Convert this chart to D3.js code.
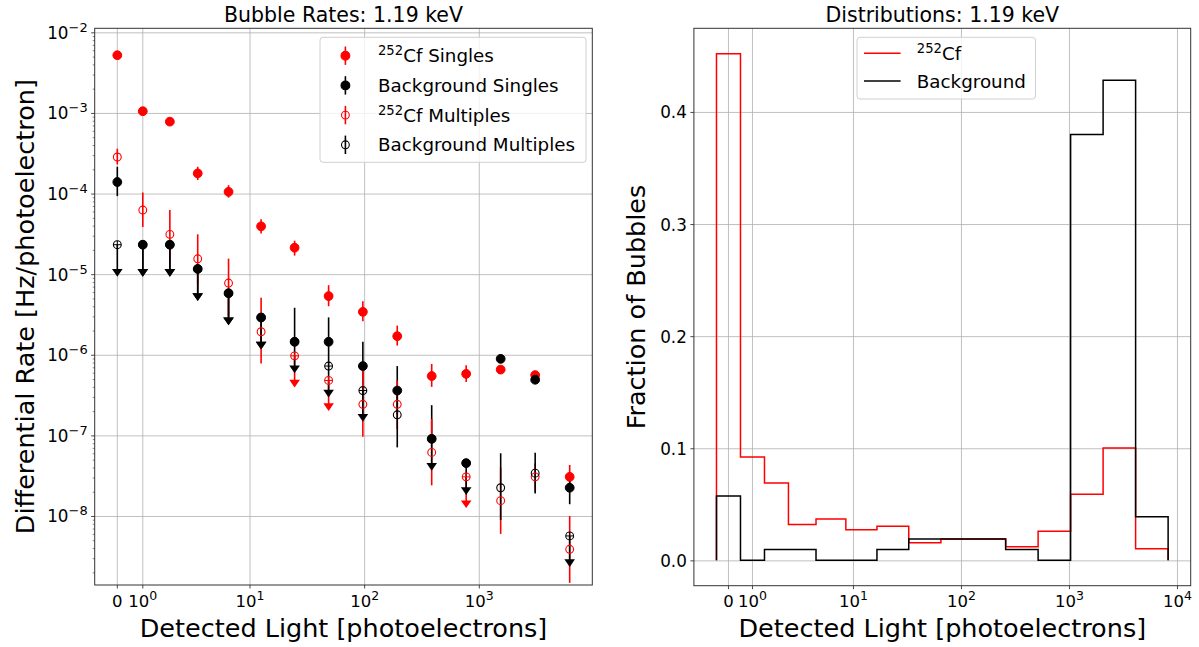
<!DOCTYPE html>
<html>
<head>
<meta charset="utf-8">
<script src="https://cdn.jsdelivr.net/npm/d3@7"></script>
<style>
  body { margin: 0; background: #fff; }
  text { font-family: "DejaVu Sans", sans-serif; fill: #000; }
</style>
</head>
<body>
<script>
// bin centres (photoelectrons) for the rate panel
var lightCenters = [0, 1, 2, 3.5, 6.5, 12.5, 24.5, 48.5, 96.5, 192.5, 384.5, 768.5, 1536.5, 3072.5, 6144.5];

// 252Cf singles
var cfSingles   = [5.2e-3, 1.05e-3, 7.8e-4, 1.78e-4, 1.05e-4, 3.92e-5, 2.13e-5, 5.35e-6, 3.41e-6, 1.7e-6, 5.45e-7, 5.8e-7, 6.55e-7, 5.6e-7, 3.06e-8];
var cfSinglesLo = [4.8e-3, 9.7e-4, 7.2e-4, 1.47e-4, 8.9e-5, 3.2e-5, 1.7e-5, 4.0e-6, 2.6e-6, 1.3e-6, 4.0e-7, 4.6e-7, 5.9e-7, 5.1e-7, 2.2e-8];
var cfSinglesHi = [5.6e-3, 1.13e-3, 8.4e-4, 2.15e-4, 1.27e-4, 4.8e-5, 2.6e-5, 7.3e-6, 4.6e-6, 2.3e-6, 7.7e-7, 7.4e-7, 7.3e-7, 6.1e-7, 4.3e-8];
var cfSinglesLim = [0, 0, 0, 0, 0, 0, 0, 0, 0, 0, 0, 0, 0, 0, 0];

// background singles
var bgSingles   = [1.39e-4, 2.32e-5, 2.32e-5, 1.16e-5, 5.8e-6, 2.9e-6, 1.45e-6, 1.45e-6, 7.25e-7, 3.6e-7, 9.06e-8, 4.53e-8, 8.9e-7, 4.9e-7, 2.24e-8];
var bgSinglesLo = [9.3e-5, 1.04e-5, 1.04e-5, 5.2e-6, 2.6e-6, 1.3e-6, 1.45e-6, 7.2e-7, 3.6e-7, 1.8e-7, 9.06e-8, 4.53e-8, 7.9e-7, 4.6e-7, 1.4e-8];
var bgSinglesHi = [2.15e-4, 2.32e-5, 2.32e-5, 1.16e-5, 5.8e-6, 2.9e-6, 3.83e-6, 2.91e-6, 1.45e-6, 7.25e-7, 2.37e-7, 4.53e-8, 1.0e-6, 5.3e-7, 3.06e-8];
var bgSinglesLim = [0, 1, 1, 1, 1, 1, 0, 0, 0, 0, 0, 0, 0, 0, 0];

// 252Cf multiples
var cfMultiples   = [2.84e-4, 6.24e-5, 3.12e-5, 1.55e-5, 7.76e-6, 1.93e-6, 9.7e-7, 4.8e-7, 2.43e-7, 2.43e-7, 6.15e-8, 3.06e-8, 1.55e-8, 3.06e-8, 3.86e-9];
var cfMultiplesLo = [2.3e-4, 3.85e-5, 1.5e-5, 7.5e-6, 3.0e-6, 7.8e-7, 4.4e-7, 2.24e-7, 9.6e-8, 1.2e-7, 2.4e-8, 1.4e-8, 6.0e-9, 2.0e-8, 1.48e-9];
var cfMultiplesHi = [3.6e-4, 1.03e-4, 6.24e-5, 3.12e-5, 1.56e-5, 5.1e-6, 9.7e-7, 4.8e-7, 6.5e-7, 4.8e-7, 1.6e-7, 3.06e-8, 4.0e-8, 4.5e-8, 1.0e-8];
var cfMultiplesLim = [0, 0, 0, 0, 0, 0, 1, 1, 0, 0, 0, 1, 0, 0, 0];

// background multiples
var bgMultiples   = [2.32e-5, 2.32e-5, 2.32e-5, 1.16e-5, 5.8e-6, 2.9e-6, 1.45e-6, 7.25e-7, 3.6e-7, 1.8e-7, 9.06e-8, 4.53e-8, 2.24e-8, 3.4e-8, 5.66e-9];
var bgMultiplesLo = [1.04e-5, 1.04e-5, 1.04e-5, 5.2e-6, 2.6e-6, 1.3e-6, 6.6e-7, 3.3e-7, 1.65e-7, 7.1e-8, 4.07e-8, 2.04e-8, 8.9e-9, 1.9e-8, 2.6e-9];
var bgMultiplesHi = [2.32e-5, 2.32e-5, 2.32e-5, 1.16e-5, 5.8e-6, 2.9e-6, 1.45e-6, 7.25e-7, 3.6e-7, 3.6e-7, 9.06e-8, 4.53e-8, 6.0e-8, 6.1e-8, 5.66e-9];
var bgMultiplesLim = [1, 1, 1, 1, 1, 1, 1, 1, 1, 0, 1, 1, 0, 0, 1];

// histogram panel
var binEdges   = [-0.5, 0.5, 1.5, 2.5, 4.5, 8.5, 16.5, 32.5, 64.5, 128.5, 256.5, 512.5, 1024.5, 2048.5, 4096.5, 8192.5];
var cfFraction = [0.452, 0.0923, 0.0691, 0.0319, 0.0370, 0.0274, 0.0304, 0.0158, 0.0191, 0.0191, 0.0122, 0.0259, 0.0590, 0.1003, 0.0104];
var bgFraction = [0.0575, 0, 0.0096, 0.0096, 0, 0, 0.0096, 0.0191, 0.0191, 0.0191, 0.0096, 0, 0.3798, 0.4283, 0.0390];

// ticks and labels
var rateTicks = [1e-8, 1e-7, 1e-6, 1e-5, 1e-4, 1e-3, 1e-2];
var lightTicks = [0, 1, 10, 100, 1000, 10000];
var fractionTicks = [0, 0.1, 0.2, 0.3, 0.4];
var rateLabels = [["252", "Cf Singles"], ["", "Background Singles"], ["252", "Cf Multiples"], ["", "Background Multiples"]];
var histLabels = [["252", "Cf"], ["", "Background"]];

var svg = d3.select("body").append("svg").attr("width", 1199).attr("height", 647);

var leftBox  = {x0: 94.7, x1: 592.3, y0: 28.3, y1: 585};
var rightBox = {x0: 693.9, x1: 1190.7, y0: 28.3, y1: 585.7};

// matplotlib-like symlog (linthresh 1.5, linscale 0.3)
var linthresh = 1.5, linscale = 0.3 / (1 - 0.1);
function symlog(v) {
  var a = Math.abs(v), s = v < 0 ? -1 : 1;
  return s * (a <= linthresh ? a / linthresh * linscale : linscale + Math.log10(a / linthresh));
}

function paddedDomain(lo, hi) {
  var p = 0.05 * (hi - lo);
  return [lo - p, hi + p];
}

var xLeftT = d3.scaleLinear()
  .domain(paddedDomain(symlog(d3.min(lightCenters)), symlog(d3.max(lightCenters))))
  .range([leftBox.x0, leftBox.x1]);
var xLeft = function(v) { return xLeftT(symlog(v)); };

var xRightT = d3.scaleLinear()
  .domain(paddedDomain(symlog(binEdges[0]), symlog(binEdges[binEdges.length - 1])))
  .range([rightBox.x0, rightBox.x1]);
var xRight = function(v) { return xRightT(symlog(v)); };

var yLeft = d3.scaleLog().domain([Math.pow(10, -8.856), Math.pow(10, -1.95)]).range([leftBox.y1, leftBox.y0]);
var yRight = d3.scaleLinear()
  .domain(paddedDomain(0, d3.max(cfFraction.concat(bgFraction))))
  .range([rightBox.y1, rightBox.y0]);

function powText(sel, exp, supSize, rise) {
  sel.append("tspan").text("10");
  sel.append("tspan").attr("dy", -rise).attr("font-size", supSize)
    .text(exp < 0 ? "\u2212" + (-exp) : String(exp));
}

// ---------- grids ----------
function xGrid(box, fx) {
  svg.append("g").selectAll("line")
    .data(lightTicks.filter(function(t) { var p = fx(t); return p >= box.x0 && p <= box.x1; }))
    .enter().append("line")
    .attr("x1", fx).attr("x2", fx)
    .attr("y1", box.y0).attr("y2", box.y1)
    .attr("stroke", "#b0b0b0").attr("stroke-width", 0.8);
}
function yGrid(box, scale, ticks) {
  svg.append("g").attr("transform", "translate(" + box.x0 + ",0)")
    .call(d3.axisLeft(scale).tickValues(ticks).tickSize(-(box.x1 - box.x0)).tickFormat(""))
    .call(function(g) { g.select(".domain").remove(); })
    .selectAll("line").attr("stroke", "#b0b0b0").attr("stroke-width", 0.8);
}
xGrid(leftBox, xLeft);
yGrid(leftBox, yLeft, rateTicks);
xGrid(rightBox, xRight);
yGrid(rightBox, yRight, fractionTicks);

// ---------- left panel: rates ----------
var rateSeries = [
  {v: cfSingles, lo: cfSinglesLo, hi: cfSinglesHi, lim: cfSinglesLim, color: "#ff0000", filled: true},
  {v: bgSingles, lo: bgSinglesLo, hi: bgSinglesHi, lim: bgSinglesLim, color: "#000000", filled: true},
  {v: cfMultiples, lo: cfMultiplesLo, hi: cfMultiplesHi, lim: cfMultiplesLim, color: "#ff0000", filled: false},
  {v: bgMultiples, lo: bgMultiplesLo, hi: bgMultiplesHi, lim: bgMultiplesLim, color: "#000000", filled: false}
];

var caret = "M-5.3,-3.8L5.3,-3.8L0,3.9Z";
var markR = 4.4;

rateSeries.forEach(function(s) {
  var g = svg.append("g");
  g.selectAll("line")
    .data(lightCenters)
    .enter().append("line")
    .attr("x1", function(d) { return xLeft(d); })
    .attr("x2", function(d) { return xLeft(d); })
    .attr("y1", function(d, i) { return yLeft(s.hi[i]); })
    .attr("y2", function(d, i) { return yLeft(s.lo[i]); })
    .attr("stroke", s.color).attr("stroke-width", 1.6);
  g.selectAll("path")
    .data(lightCenters.filter(function(d, i) { return s.lim[i]; }))
    .enter().append("path")
    .attr("d", caret)
    .attr("transform", function(d) {
      var i = lightCenters.indexOf(d);
      return "translate(" + xLeft(d) + "," + yLeft(s.lo[i]) + ")";
    })
    .attr("fill", s.color);
});

rateSeries.forEach(function(s) {
  var g = svg.append("g");
  g.selectAll("circle")
    .data(lightCenters)
    .enter().append("circle")
    .attr("cx", function(d) { return xLeft(d); })
    .attr("cy", function(d, i) { return yLeft(s.v[i]); })
    .attr("r", s.filled ? markR : markR - 0.5)
    .attr("fill", s.filled ? s.color : "none")
    .attr("stroke", s.color).attr("stroke-width", s.filled ? 1 : 1.1);
  if (!s.filled) {
    // cross drawn through the open limit markers
    g.selectAll("path")
      .data(lightCenters.filter(function(d, i) { return s.lim[i]; }))
      .enter().append("path")
      .attr("d", "M-3.9,0H3.9M0,-3.9V3.9")
      .attr("transform", function(d) {
        var i = lightCenters.indexOf(d);
        return "translate(" + xLeft(d) + "," + yLeft(s.v[i]) + ")";
      })
      .attr("stroke", s.color).attr("stroke-width", 1);
  }
});

// ---------- right panel: histograms ----------
function stepPoints(vals) {
  var pts = [[binEdges[0], 0]];
  vals.forEach(function(v, i) {
    pts.push([binEdges[i], v]);
    pts.push([binEdges[i + 1], v]);
  });
  pts.push([binEdges[binEdges.length - 1], 0]);
  return pts;
}
var stepLine = d3.line()
  .x(function(d) { return xRight(d[0]); })
  .y(function(d) { return yRight(d[1]); });

svg.append("path").attr("d", stepLine(stepPoints(cfFraction)))
  .attr("fill", "none").attr("stroke", "#ff0000").attr("stroke-width", 1.5);
svg.append("path").attr("d", stepLine(stepPoints(bgFraction)))
  .attr("fill", "none").attr("stroke", "#000000").attr("stroke-width", 1.5);

// ---------- spines, ticks, labels ----------
[leftBox, rightBox].forEach(function(b) {
  svg.append("rect").attr("x", b.x0).attr("y", b.y0)
    .attr("width", b.x1 - b.x0).attr("height", b.y1 - b.y0)
    .attr("fill", "none").attr("stroke", "#333").attr("stroke-width", 1);
});

function xTicks(box, fx) {
  var g = svg.append("g");
  var ticks = lightTicks.filter(function(t) { var p = fx(t); return p >= box.x0 && p <= box.x1; });
  g.selectAll("line").data(ticks).enter().append("line")
    .attr("x1", fx).attr("x2", fx)
    .attr("y1", box.y1).attr("y2", box.y1 + 3.5)
    .attr("stroke", "#333").attr("stroke-width", 0.9);
  g.selectAll("text").data(ticks).enter().append("text")
    .attr("x", fx).attr("y", box.y1 + 21.5)
    .attr("text-anchor", "middle").attr("font-size", 16.5)
    .each(function(t) {
      var sel = d3.select(this);
      if (t === 0) sel.text("0");
      else powText(sel, Math.round(Math.log10(t)), 12.5, 7);
    });
}
xTicks(leftBox, xLeft);
xTicks(rightBox, xRight);

// left y axis (log)
var minorTicks = [];
for (var k = -9; k <= -2; k++) {
  for (var m = 2; m <= 9; m++) {
    var mv = m * Math.pow(10, k);
    if (mv > yLeft.domain()[0] && mv < yLeft.domain()[1]) minorTicks.push(mv);
  }
}
svg.append("g").attr("transform", "translate(" + leftBox.x0 + ",0)")
  .call(d3.axisLeft(yLeft).tickValues(minorTicks).tickSize(2).tickFormat(""))
  .call(function(g) { g.select(".domain").remove(); })
  .selectAll("line").attr("stroke", "#333").attr("stroke-width", 0.6);

var gyL = svg.append("g").attr("transform", "translate(" + leftBox.x0 + ",0)")
  .call(d3.axisLeft(yLeft).tickValues(rateTicks).tickSize(3.5).tickPadding(3.5).tickFormat(""));
gyL.select(".domain").remove();
gyL.selectAll(".tick line").attr("stroke", "#333").attr("stroke-width", 0.9);
gyL.selectAll(".tick text")
  .attr("dy", 6).attr("x", -7).attr("font-size", 16.8)
  .attr("font-family", "DejaVu Sans, sans-serif").attr("fill", "#000")
  .each(function(t) { powText(d3.select(this), Math.round(Math.log10(t)), 13, 7); });

// right y axis (linear)
var gyR = svg.append("g").attr("transform", "translate(" + rightBox.x0 + ",0)")
  .call(d3.axisLeft(yRight).tickValues(fractionTicks).tickSize(3.5).tickPadding(3.5).tickFormat(d3.format(".1f")));
gyR.select(".domain").remove();
gyR.selectAll(".tick line").attr("stroke", "#333").attr("stroke-width", 0.9);
gyR.selectAll(".tick text")
  .attr("dy", 6).attr("font-size", 16.8)
  .attr("font-family", "DejaVu Sans, sans-serif").attr("fill", "#000");

// titles
svg.append("text").attr("x", (leftBox.x0 + leftBox.x1) / 2).attr("y", 21.5)
  .attr("text-anchor", "middle").attr("font-size", 20.5).text("Bubble Rates: 1.19 keV");
svg.append("text").attr("x", (rightBox.x0 + rightBox.x1) / 2).attr("y", 21.5)
  .attr("text-anchor", "middle").attr("font-size", 20.5).text("Distributions: 1.19 keV");

// axis labels
[leftBox, rightBox].forEach(function(b) {
  svg.append("text").attr("x", (b.x0 + b.x1) / 2).attr("y", 636.5)
    .attr("text-anchor", "middle").attr("font-size", 25.5)
    .text("Detected Light [photoelectrons]");
});
svg.append("text")
  .attr("transform", "translate(34," + (leftBox.y0 + leftBox.y1) / 2 + ") rotate(-90)")
  .attr("text-anchor", "middle").attr("font-size", 25.5)
  .text("Differential Rate [Hz/photoelectron]");
svg.append("text")
  .attr("transform", "translate(645," + (rightBox.y0 + rightBox.y1) / 2 + ") rotate(-90)")
  .attr("text-anchor", "middle").attr("font-size", 25.5)
  .text("Fraction of Bubbles");

function legendText(g, x, y, lab, size) {
  var t = g.append("text").attr("x", x).attr("y", y).attr("font-size", size);
  if (lab[0]) {
    t.append("tspan").attr("dy", -7).attr("font-size", size * 0.72).text(lab[0]);
    t.append("tspan").attr("dy", 7).text(lab[1]);
  } else {
    t.text(lab[1]);
  }
}

// left legend
var lg = svg.append("g");
lg.append("rect").attr("x", 320).attr("y", 37.3).attr("width", 266).attr("height", 125)
  .attr("rx", 3).attr("fill", "#fff").attr("fill-opacity", 0.8)
  .attr("stroke", "#d0d0d0").attr("stroke-width", 1);
rateSeries.forEach(function(s, i) {
  var cy = 55.7 + i * 29.7;
  lg.append("circle").attr("cx", 345.4).attr("cy", cy).attr("r", s.filled ? markR : markR - 0.5)
    .attr("fill", s.filled ? s.color : "none").attr("stroke", s.color).attr("stroke-width", 1.1);
  lg.append("line").attr("x1", 345.4).attr("x2", 345.4).attr("y1", cy - 9.2).attr("y2", cy + 9.2)
    .attr("stroke", s.color).attr("stroke-width", 1.6);
  legendText(lg, 378, cy + 6.5, rateLabels[i], 18.3);
});

// right legend
var hg = svg.append("g");
hg.append("rect").attr("x", 857).attr("y", 37.3).attr("width", 178.5).attr("height", 61.7)
  .attr("rx", 3).attr("fill", "#fff").attr("fill-opacity", 0.8)
  .attr("stroke", "#d0d0d0").attr("stroke-width", 1);
["#ff0000", "#000000"].forEach(function(c, i) {
  var cy = 53.3 + i * 27.7;
  hg.append("line").attr("x1", 864).attr("x2", 900.6).attr("y1", cy).attr("y2", cy)
    .attr("stroke", c).attr("stroke-width", 1.5);
  legendText(hg, 916.8, cy + 6.5, histLabels[i], 18.3);
});
</script>
</body>
</html>
